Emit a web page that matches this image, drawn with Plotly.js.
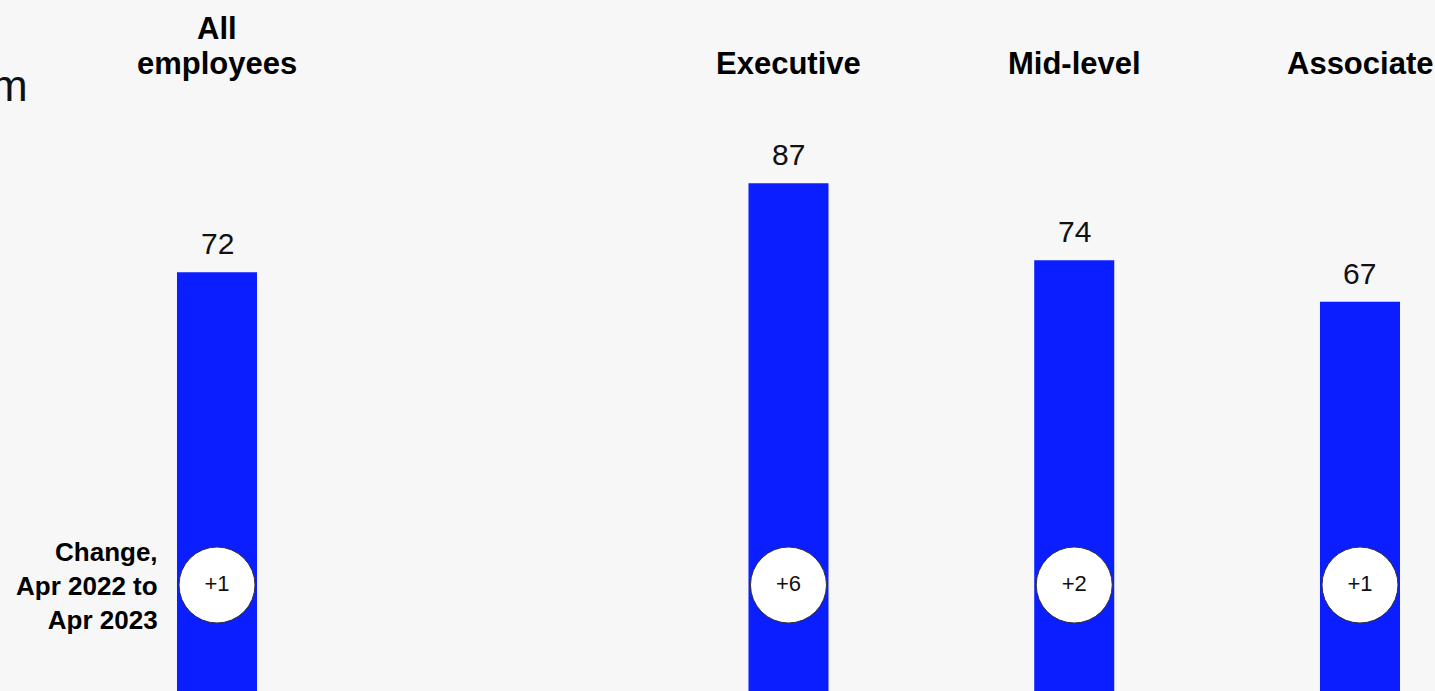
<!DOCTYPE html>
<html>
<head>
<meta charset="utf-8">
<script src="https://cdn.plot.ly/plotly-3.0.1.min.js"></script>
<style>
  html, body { margin: 0; padding: 0; background: #f7f7f7; }
  #chart { width: 1435px; height: 691px; }
</style>
</head>
<body>
<div id="chart"></div>
<script>
// Employee groups (an empty slot separates the overall figure from the levels)
const categories = ['All employees', '', 'Executive', 'Mid-level', 'Associate'];
const headerLines = [['All', 'employees'], [], ['Executive'], ['Mid-level'], ['Associate']];
// Score, Apr 2023
const scores = [72, null, 87, 74, 67];
// Change in score, Apr 2022 to Apr 2023
const changes = [1, null, 6, 2, 1];
const changeLabel = 'Change,<br>Apr 2022 to<br>Apr 2023';
const cornerText = 'm';

const FONT = 'Arial, "Liberation Sans", sans-serif';
const BLUE = '#0A1EFF';

const W = 1435, H = 691;
const px = (p) => p / W;          // horizontal pixel -> paper
const py = (p) => 1 - p / H;      // vertical pixel (from top) -> paper

const bars = {
  type: 'bar',
  x: categories.map((c, i) => i),
  y: scores,
  width: 0.28,
  marker: { color: BLUE, line: { width: 0 } },
  hoverinfo: 'skip',
  showlegend: false
};

const idx = categories.map((c, i) => i).filter(i => changes[i] !== null);
const bubbles = {
  type: 'scatter',
  mode: 'markers+text',
  x: idx,
  y: idx.map(() => 0.1534),
  yaxis: 'y2',
  marker: { size: 76, color: '#ffffff', line: { color: '#333333', width: 1 } },
  text: idx.map(i => (changes[i] > 0 ? '+' : '') + changes[i]),
  textposition: 'middle center',
  textfont: { family: FONT, size: 22, color: '#111111' },
  hoverinfo: 'skip',
  cliponaxis: false,
  showlegend: false
};

const annotations = [];

// value labels above each bar
categories.forEach((c, i) => {
  if (scores[i] === null) return;
  annotations.push({
    x: i, y: scores[i], xref: 'x', yref: 'y',
    text: String(scores[i]),
    showarrow: false, xanchor: 'center', yanchor: 'bottom', yshift: 10,
    font: { family: FONT, size: 30, color: '#111111' }
  });
});

// group headers, bottom lines aligned
categories.forEach((c, i) => {
  const lines = headerLines[i];
  lines.forEach((ln, k) => {
    const fromBottom = lines.length - 1 - k;
    annotations.push({
      x: i, xref: 'x', yref: 'paper',
      y: py(63 - fromBottom * 35),
      text: '<b>' + ln + '</b>',
      showarrow: false, xanchor: 'center', yanchor: 'middle',
      font: { family: FONT, size: 31, color: '#000000' }
    });
  });
});

// row label for the change bubbles
annotations.push({
  x: px(160), y: py(586), xref: 'paper', yref: 'paper',
  text: '<b>' + changeLabel.split('<br>').join('</b><br><b>') + '</b>',
  showarrow: false, xanchor: 'right', yanchor: 'middle', align: 'right',
  font: { family: FONT, size: 26, color: '#000000' }
});

// corner text, running in from the left edge
annotations.push({
  x: px(30), y: py(85), xref: 'paper', yref: 'paper',
  text: cornerText,
  showarrow: false, xanchor: 'right', yanchor: 'middle',
  font: { family: FONT, size: 44, color: '#111111' }
});

const layout = {
  width: W, height: H,
  margin: { l: 0, r: 0, t: 0, b: 0, pad: 0 },
  paper_bgcolor: '#f7f7f7',
  plot_bgcolor: '#f7f7f7',
  xaxis: {
    range: [-0.7594, 4.2625],
    showgrid: false, zeroline: false, showticklabels: false, ticks: '',
    fixedrange: true
  },
  yaxis: {
    range: [1.35, 117.9],
    showgrid: false, zeroline: false, showticklabels: false, ticks: '',
    fixedrange: true
  },
  yaxis2: {
    overlaying: 'y', range: [0, 1],
    showgrid: false, zeroline: false, showticklabels: false, ticks: '',
    fixedrange: true
  },
  annotations: annotations,
  showlegend: false
};

Plotly.newPlot('chart', [bars, bubbles], layout, { staticPlot: true, displayModeBar: false });
</script>
</body>
</html>
